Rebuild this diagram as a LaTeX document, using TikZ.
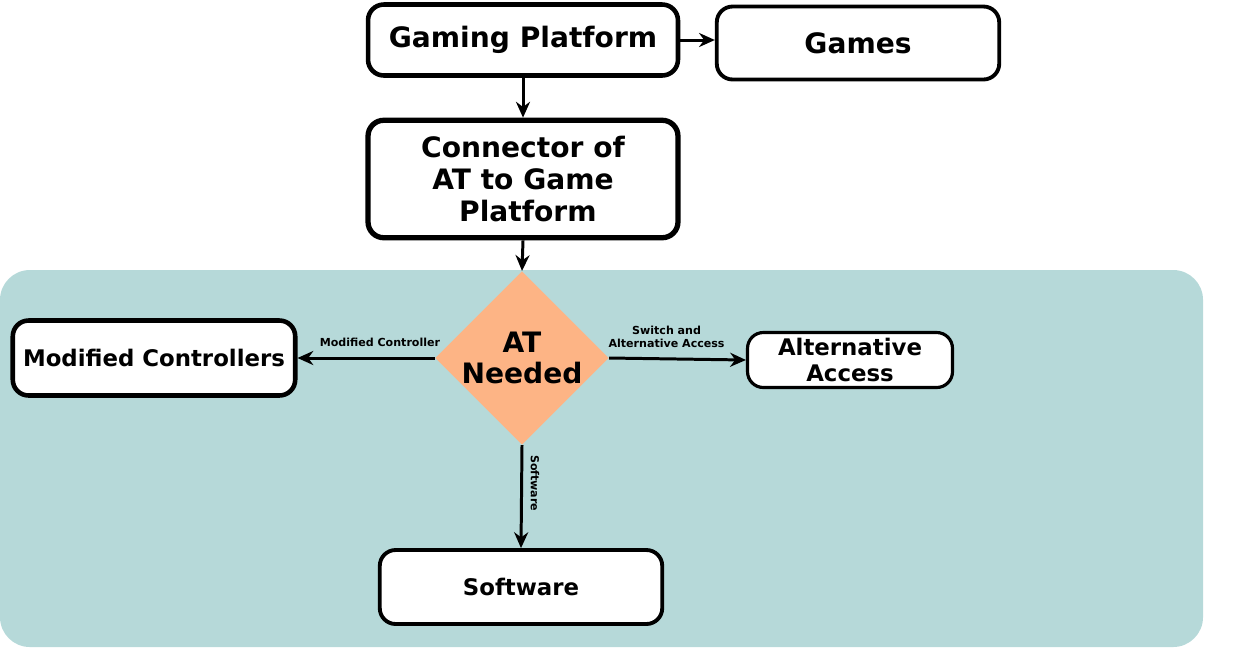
\documentclass[tikz,border=0pt]{standalone}
\usepackage{fontspec}
\setmainfont{DejaVu Sans}
\usetikzlibrary{shapes.geometric,arrows.meta}
\definecolor{bgc}{HTML}{B6D9D9}
\definecolor{dia}{HTML}{FDB485}
\begin{document}
\begin{tikzpicture}[x=0.02cm,y=-0.02cm,
  box/.style={draw=black,line width=2.6pt,rounded corners=9pt,fill=white,align=center,font=\bfseries\fontsize{16}{18}\selectfont},
  arr/.style={-{Stealth[length=9pt,width=8pt]},line width=1.7pt},
  lab/.style={font=\bfseries\fontsize{6.3}{7.5}\selectfont,align=center}]
\useasboundingbox (0,0) rectangle (1239,647);
\fill[bgc,rounded corners=17pt] (0,270) rectangle (1203,647);
\node[box,minimum width=6.2cm,minimum height=1.42cm] (gp) at (523,40) {Gaming Platform};
\node[box,line width=2.2pt,minimum width=5.65cm,minimum height=1.46cm] (gm) at (858,43) {Games};
\node[box,line width=3pt,minimum width=6.2cm,minimum height=2.35cm,inner sep=1pt] (con) at (523,179) {Connector of\\AT to Game\\\ Platform};
\node[diamond,fill=dia,minimum width=3.32cm,minimum height=3.28cm,inner sep=0pt,align=center,font=\bfseries\fontsize{16}{18}\selectfont] (at) at (522,358) {AT\\Needed};
\node[box,line width=2.6pt,minimum width=5.65cm,minimum height=1.5cm,font=\bfseries\fontsize{13}{15}\selectfont] (mc) at (154,358) {Modified Controllers};
\node[box,line width=1.8pt,minimum width=4.1cm,minimum height=1.1cm,inner sep=1pt,font=\bfseries\fontsize{13}{14.5}\selectfont] (aa) at (850,360) {Alternative\\Access};
\node[box,line width=2.2pt,minimum width=5.65cm,minimum height=1.48cm,font=\bfseries\fontsize{13}{15}\selectfont] (sw) at (521,587) {Software};
\draw[arr] (gp.east) -- (gp.east -| gm.west);
\draw[arr] (gp.south) -- (con.north);
\draw[arr] (con.south) -- (at.north);
\draw[arr] (at.west) -- node[lab,above=2pt,pos=0.4] {Modified Controller} (mc.east);
\draw[arr] (at.east) -- node[lab,above=2pt,pos=0.42] {Switch and\\Alternative Access} (aa.west);
\draw[arr] (at.south) -- node[lab,right=1pt,pos=0.37,rotate=-90,anchor=south] {Software} (sw.north);
\end{tikzpicture}
\end{document}
